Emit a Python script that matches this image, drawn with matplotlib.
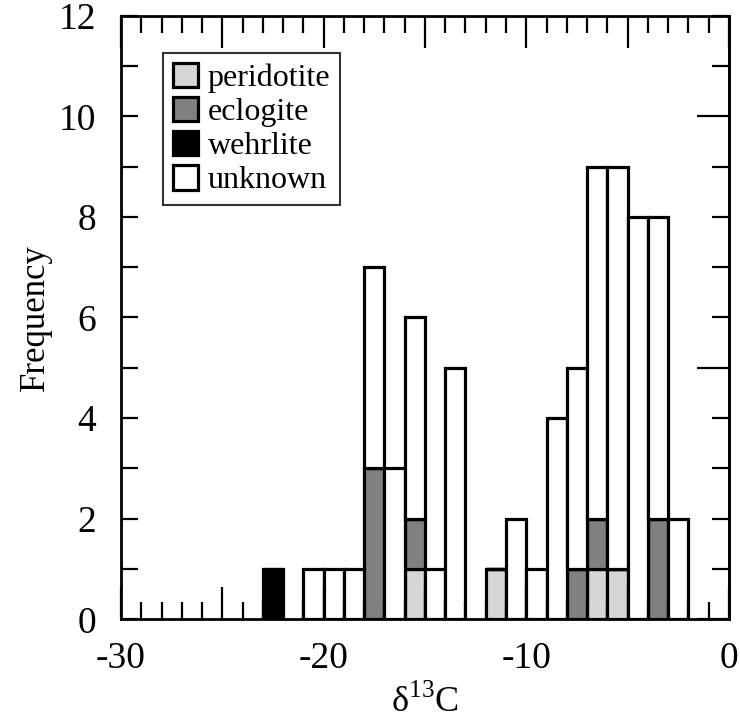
import matplotlib
matplotlib.use("Agg")
import matplotlib.pyplot as plt
from matplotlib.ticker import MultipleLocator, FuncFormatter

plt.rcParams['font.family'] = ['Liberation Serif', 'DejaVu Serif']
plt.rcParams['mathtext.fontset'] = 'custom'
plt.rcParams['mathtext.rm'] = 'Liberation Serif'

# bin centres (1 permil bins) and counts per lithology
bin_centers = [-22.5, -20.5, -19.5, -18.5, -17.5, -16.5, -15.5, -14.5, -13.5,
               -11.5, -10.5, -9.5, -8.5, -7.5, -6.5, -5.5, -4.5, -3.5, -2.5]
peridotite = [0, 0, 0, 0, 0, 0, 1, 0, 0, 1, 0, 0, 0, 0, 1, 1, 0, 0, 0]
eclogite = [0, 0, 0, 0, 3, 0, 1, 0, 0, 0, 0, 0, 0, 1, 1, 0, 0, 2, 0]
wehrlite = [1, 0, 0, 0, 0, 0, 0, 0, 0, 0, 0, 0, 0, 0, 0, 0, 0, 0, 0]
unknown = [0, 1, 1, 1, 4, 3, 4, 1, 5, 0, 2, 1, 4, 4, 7, 8, 8, 6, 2]

series = [("peridotite", peridotite, "#d6d6d6"),
          ("eclogite", eclogite, "#808080"),
          ("wehrlite", wehrlite, "#000000"),
          ("unknown", unknown, "#ffffff")]

fig = plt.figure(figsize=(7.40, 7.19), dpi=100)
ax = fig.add_axes([0.1635, 0.1387, 0.8215, 0.8395])

bottom = [0] * len(bin_centers)
handles = []
for name, vals, col in series:
    h = ax.bar(bin_centers, vals, width=1.0, bottom=bottom, color=col,
               edgecolor="black", linewidth=2.3, label=name)
    handles.append(h)
    bottom = [b + v for b, v in zip(bottom, vals)]

ax.set_xlim(-30, 0)
ax.set_ylim(0, 12)

for s in ax.spines.values():
    s.set_linewidth(2)

ax.xaxis.set_major_locator(MultipleLocator(5))
ax.xaxis.set_minor_locator(MultipleLocator(1))
ax.xaxis.set_major_formatter(FuncFormatter(lambda v, p: f"{v:.0f}" if v % 10 == 0 else ""))
ax.yaxis.set_major_locator(MultipleLocator(2))
ax.yaxis.set_minor_locator(MultipleLocator(1))

ax.tick_params(axis="x", which="both", direction="in", top=True, bottom=True,
               labelsize=27, width=1.6, pad=16)
ax.tick_params(axis="x", which="major", length=23)
ax.tick_params(axis="x", which="minor", length=12)
ax.tick_params(axis="y", which="both", direction="in", left=True, right=False,
               labelsize=27, width=1.6, length=12, pad=18)

# right-hand axis has its own tick pattern (long ticks every 5)
sec = ax.secondary_yaxis("right")
sec.yaxis.set_major_locator(MultipleLocator(5))
sec.yaxis.set_minor_locator(MultipleLocator(1))
sec.tick_params(which="both", direction="in", width=1.6, labelright=False)
sec.tick_params(which="major", length=23)
sec.tick_params(which="minor", length=12)
sec.spines["right"].set_linewidth(2)

ax.set_xlabel(r"δ$^{\mathrm{13}}$C", fontsize=26, labelpad=6)
ax.set_ylabel("Frequency", fontsize=25, labelpad=5)

leg = ax.legend(handles=handles, loc="upper left", bbox_to_anchor=(0.069, 0.938),
                borderaxespad=0, fontsize=23, frameon=True, fancybox=False,
                handlelength=0.8, handleheight=0.8, handletextpad=0.3,
                labelspacing=0.12, borderpad=0.3)
leg.get_frame().set_edgecolor("black")
leg.get_frame().set_linewidth(1.5)

fig.savefig("out.png", dpi=100)
